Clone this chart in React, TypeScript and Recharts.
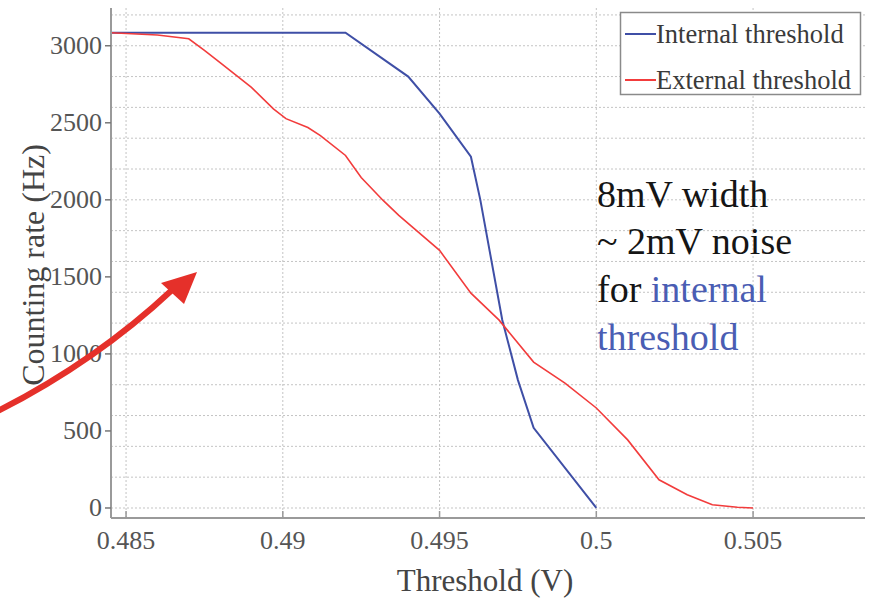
import React from 'react';
import { LineChart, Line, XAxis, YAxis, CartesianGrid } from 'recharts';

// Internal threshold (blue)
const internalThreshold = [0.4845, 0.492, 0.494, 0.495, 0.496, 0.4963, 0.497, 0.4975, 0.498, 0.5];
const internalRate = [3085, 3085, 2800, 2560, 2280, 2000, 1220, 830, 520, 0];

// External threshold (red)
const externalThreshold = [
  0.4845, 0.486, 0.487, 0.4875, 0.488, 0.489, 0.4897, 0.4901, 0.4908, 0.4912, 0.492, 0.4925,
  0.4932, 0.4937, 0.495, 0.496, 0.4969, 0.498, 0.499, 0.5, 0.501, 0.502, 0.5029, 0.5037, 0.5045, 0.505,
];
const externalRate = [
  3085, 3070, 3045, 2970, 2890, 2730, 2590, 2527, 2469, 2417, 2288, 2145,
  1996, 1899, 1672, 1394, 1219, 947, 811, 649, 442, 183, 86, 21, 5, 0,
];

const xTicks = [0.485, 0.49, 0.495, 0.5, 0.505];
const yTicks = [0, 500, 1000, 1500, 2000, 2500, 3000];
const gridRates = [0, 100, 200, 300, 400, 500, 600, 700, 800, 900, 1000, 1100, 1200, 1300, 1400, 1500, 1600,
  1700, 1800, 1900, 2000, 2100, 2200, 2300, 2400, 2500, 2600, 2700, 2800, 2900, 3000, 3100, 3200];

const seriesNames = ['Internal threshold', 'External threshold'];
const BLUE = '#3f4fa6';
const RED = '#f23c3c';
const seriesColors = [BLUE, RED];
const FONT = 'Liberation Serif';

const internalData = internalThreshold.map((x, i) => ({ x, rate: internalRate[i] }));
const externalData = externalThreshold.map((x, i) => ({ x, rate: externalRate[i] }));

const XTick = (props: any) => {
  const { x, y, payload } = props;
  return (
    <g>
      <line x1={x} x2={x} y1={y} y2={y - 7} stroke="#999" strokeWidth={1.5} />
      <text x={x} y={y + 31} textAnchor="middle" style={{ fontFamily: FONT }} fontSize={26} fill="#555">
        {String(payload.value)}
      </text>
    </g>
  );
};

const YTick = (props: any) => {
  const { x, y, payload } = props;
  return (
    <text x={x} y={y + 8} textAnchor="end" style={{ fontFamily: FONT }} fontSize={26} fill="#555">
      {String(payload.value)}
    </text>
  );
};

export default function App() {
  return (
    <div style={{ position: 'absolute', left: 0, top: 0, width: 871, height: 599, background: '#fff' }}>
      <LineChart width={871} height={599} margin={{ top: 8, right: 6, bottom: 0, left: 0 }}>
        <CartesianGrid
          horizontalValues={gridRates}
          verticalValues={xTicks}
          stroke="#c4c4c4"
          strokeDasharray="2 2"
        />
        <XAxis
          type="number"
          dataKey="x"
          domain={[0.48452, 0.50857]}
          allowDataOverflow
          ticks={xTicks}
          height={81}
          tickSize={0}
          tickMargin={0}
          tickLine={false}
          tick={<XTick />}
          axisLine={{ stroke: '#9a9a9a', strokeWidth: 2 }}
        />
        <YAxis
          type="number"
          dataKey="rate"
          domain={[-65, 3245]}
          allowDataOverflow
          ticks={yTicks}
          width={111}
          tickSize={6}
          tickMargin={3}
          tickLine={{ stroke: '#777', strokeWidth: 1.5 }}
          axisLine={{ stroke: '#9a9a9a', strokeWidth: 2 }}
          tick={<YTick />}
        />
        <Line
          data={internalData}
          dataKey="rate"
          name={seriesNames[0]}
          stroke={BLUE}
          strokeWidth={2}
          dot={false}
          isAnimationActive={false}
        />
        <Line
          data={externalData}
          dataKey="rate"
          name={seriesNames[1]}
          stroke={RED}
          strokeWidth={1.6}
          dot={false}
          isAnimationActive={false}
        />
      </LineChart>
      <svg
        width={871}
        height={599}
        style={{ position: 'absolute', left: 0, top: 0, pointerEvents: 'none', fontFamily: FONT }}
      >
        <g>
          <rect x={620.5} y={12.5} width={240} height={82} fill="#fff" stroke="#8a8a8a" strokeWidth={1.5} />
          {seriesNames.map((name, i) => (
            <g key={name}>
              <line x1={625} x2={656} y1={34 + i * 46} y2={34 + i * 46} stroke={seriesColors[i]} strokeWidth={2} />
              <text x={656} y={43 + i * 46} fontSize={26.5} fill="#3a3a3a">
                {name}
              </text>
            </g>
          ))}
        </g>
        <text x={485} y={591} textAnchor="middle" fontSize={31} fill="#444">
          Threshold (V)
        </text>
        <text
          x={0}
          y={0}
          transform="translate(44 265) rotate(-90)"
          textAnchor="middle"
          fontSize={32}
          fill="#444"
        >
          Counting rate (Hz)
        </text>
        <g fontSize={38} fill="#151515">
          <text x={597} y={207}>8mV width</text>
          <text x={597} y={254}>~ 2mV noise</text>
          <text x={597} y={302}>
            for <tspan fill="#4a5db3">internal</tspan>
          </text>
          <text x={597} y={350} fill="#4a5db3">threshold</text>
        </g>
        <path d="M -4 412 Q 95 362 172 290" stroke="#e5302a" strokeWidth={6} fill="none" />
        <polygon points="197,272 161,283 184,304" fill="#e5302a" />
      </svg>
    </div>
  );
}
